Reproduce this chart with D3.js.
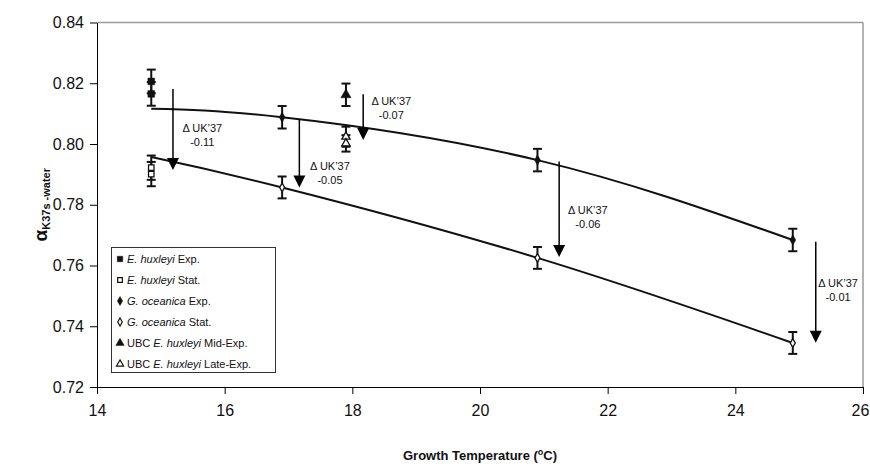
<!DOCTYPE html>
<html>
<head>
<meta charset="utf-8">
<script src="https://cdn.jsdelivr.net/npm/d3@7"></script>
<style>
  html, body { margin: 0; padding: 0; background: #fff; }
  svg { display: block; font-family: Arial, "Liberation Sans", sans-serif; }
</style>
</head>
<body>
<svg id="chart" width="870" height="464"></svg>
<script>
// ---- data ----
const xTicks = [14, 16, 18, 20, 22, 24, 26];
const yTicks = [0.72, 0.74, 0.76, 0.78, 0.80, 0.82, 0.84];

const ehuxExpT = [14.85, 14.85];
const ehuxExpV = [0.8206, 0.8165];
const ehuxExpE = [0.0039, 0.0039];

const ehuxStatT = [14.85, 14.85];
const ehuxStatV = [0.7922, 0.7901];
const ehuxStatE = [0.0040, 0.0040];

const goceExpT = [16.9, 20.9, 24.9];
const goceExpV = [0.8088, 0.7947, 0.7684];
const goceExpE = [0.0037, 0.0037, 0.0037];

const goceStatT = [16.9, 20.9, 24.9];
const goceStatV = [0.7857, 0.7625, 0.7345];
const goceStatE = [0.0036, 0.0036, 0.0036];

const ubcMidT = [17.9];
const ubcMidV = [0.8162];
const ubcMidE = [0.0037];

const ubcLateT = [17.9, 17.9];
const ubcLateV = [0.8024, 0.8002];
const ubcLateE = [0.0033, 0.0027];

// fitted trend lines
const fitExpT = [14.85, 16.9, 20.9, 24.9];
const fitExpV = [0.8116, 0.8088, 0.7947, 0.7684];
const fitStatT = [14.85, 16.9, 20.9, 24.9];
const fitStatV = [0.7957, 0.7857, 0.7625, 0.7345];

// arrows: x, top, tip, label centre x, label first baseline, label text
const arrowT = [15.19, 17.17, 18.17, 21.24, 25.26];
const arrowTop = [0.8181, 0.8082, 0.8164, 0.7942, 0.7678];
const arrowTip = [0.7914, 0.7857, 0.8013, 0.7628, 0.7346];
const labelT = [15.65, 17.65, 18.61, 21.69, 25.61];
const labelV = [0.8038, 0.7914, 0.8130, 0.7771, 0.7528];
const labelVal = ["-0.11", "-0.05", "-0.07", "-0.06", "-0.01"];

const legendLabels = [
  [{t: "E. huxleyi", i: true}, {t: " Exp.", i: false}],
  [{t: "E. huxleyi", i: true}, {t: " Stat.", i: false}],
  [{t: "G. oceanica", i: true}, {t: " Exp.", i: false}],
  [{t: "G. oceanica", i: true}, {t: " Stat.", i: false}],
  [{t: "UBC ", i: false}, {t: "E. huxleyi", i: true}, {t: " Mid-Exp.", i: false}],
  [{t: "UBC ", i: false}, {t: "E. huxleyi", i: true}, {t: " Late-Exp.", i: false}]
];

// ---- layout ----
const svg = d3.select("#chart");
const L = 97, R = 863, T = 22.5, B = 387;
const x = d3.scaleLinear().domain([14, 26]).range([L, R]);
const y = d3.scaleLinear().domain([0.72, 0.84]).range([B, T]);

// plot frame top/right (gray)
svg.append("line").attr("x1", L).attr("x2", R).attr("y1", T).attr("y2", T)
  .attr("stroke", "#9a9a9a").attr("stroke-width", 1.5);
svg.append("line").attr("x1", R).attr("x2", R).attr("y1", T).attr("y2", B)
  .attr("stroke", "#9a9a9a").attr("stroke-width", 1.5);

// axes
const xAxis = d3.axisBottom(x).tickValues(xTicks).tickFormat(d3.format("d"))
  .tickSizeInner(7).tickSizeOuter(0).tickPadding(7);
const gx = svg.append("g").attr("transform", `translate(0,${B})`).call(xAxis);
const yAxis = d3.axisLeft(y).tickValues(yTicks).tickFormat(d3.format(".2f"))
  .tickSizeInner(7).tickSizeOuter(0).tickPadding(6);
const gy = svg.append("g").attr("transform", `translate(${L},0)`).call(yAxis);
[gx, gy].forEach(g => {
  g.select(".domain").attr("stroke", "#000").attr("stroke-width", 1);
  g.selectAll(".tick line").attr("stroke", "#000");
  g.selectAll(".tick text").attr("fill", "#111").style("font-size", "16px")
    .style("font-family", "Arial, 'Liberation Sans', sans-serif");
});
gx.selectAll(".tick text").attr("dy", "0.95em")
  .attr("dx", d => d === 26 ? -3 : 0);

// axis titles
const xt = svg.append("text").attr("x", (L + R) / 2).attr("y", 460)
  .attr("text-anchor", "middle").style("font-weight", "bold").style("font-size", "13px")
  .attr("fill", "#111");
xt.append("tspan").text("Growth Temperature (");
xt.append("tspan").text("o").style("font-size", "9px").attr("dy", "-5");
xt.append("tspan").text("C)").attr("dy", "5");

const yt = svg.append("text")
  .attr("transform", `translate(47,${(T + B) / 2}) rotate(-90)`)
  .attr("text-anchor", "middle").style("font-weight", "bold").attr("fill", "#111");
yt.append("tspan").text("α").style("font-size", "19px");
yt.append("tspan").text("K37s -water").style("font-size", "11px").attr("dy", "3");

// trend lines
const line = d3.line().x(d => x(d[0])).y(d => y(d[1])).curve(d3.curveNatural);
svg.append("path").datum(fitExpT.map((t, i) => [t, fitExpV[i]]))
  .attr("d", line).attr("fill", "none").attr("stroke", "#111").attr("stroke-width", 2);
svg.append("path").datum(fitStatT.map((t, i) => [t, fitStatV[i]]))
  .attr("d", line).attr("fill", "none").attr("stroke", "#111").attr("stroke-width", 2);

// error bars + markers
function errorBars(ts, vs, es) {
  const g = svg.append("g").attr("stroke", "#111").attr("stroke-width", 2);
  ts.forEach((t, i) => {
    const cx = x(t), y1 = y(vs[i] + es[i]), y2 = y(vs[i] - es[i]);
    g.append("line").attr("x1", cx).attr("x2", cx).attr("y1", y1).attr("y2", y2);
    g.append("line").attr("x1", cx - 4.5).attr("x2", cx + 4.5).attr("y1", y1).attr("y2", y1);
    g.append("line").attr("x1", cx - 4.5).attr("x2", cx + 4.5).attr("y1", y2).attr("y2", y2);
  });
}
function markers(ts, vs, type, size, filled) {
  const sym = d3.symbol().type(type).size(size);
  svg.append("g").selectAll("path").data(ts.map((t, i) => [t, vs[i]])).join("path")
    .attr("d", sym)
    .attr("transform", d => `translate(${x(d[0])},${y(d[1])})`)
    .attr("fill", filled ? "#111" : "#fff")
    .attr("stroke", "#111").attr("stroke-width", filled ? 0.5 : 1.3);
}
errorBars(ehuxExpT, ehuxExpV, ehuxExpE);
errorBars(ehuxStatT, ehuxStatV, ehuxStatE);
errorBars(goceExpT, goceExpV, goceExpE);
errorBars(goceStatT, goceStatV, goceStatE);
errorBars(ubcMidT, ubcMidV, ubcMidE);
errorBars(ubcLateT, ubcLateV, ubcLateE);
markers(ehuxExpT, ehuxExpV, d3.symbolSquare, 45, true);
markers(ehuxStatT, ehuxStatV, d3.symbolSquare, 30, false);
markers(goceExpT, goceExpV, d3.symbolDiamond, 30, true);
markers(goceStatT, goceStatV, d3.symbolDiamond, 22, false);
markers(ubcMidT, ubcMidV, d3.symbolTriangle, 45, true);
markers(ubcLateT, ubcLateV, d3.symbolTriangle, 30, false);

// arrows with labels
const ag = svg.append("g");
arrowT.forEach((t, i) => {
  const ax = x(t), yTop = y(arrowTop[i]), yTip = y(arrowTip[i]);
  ag.append("line").attr("x1", ax).attr("x2", ax).attr("y1", yTop).attr("y2", yTip - 8)
    .attr("stroke", "#000").attr("stroke-width", 1.5);
  ag.append("path")
    .attr("d", `M${ax - 6},${yTip - 12}L${ax + 6},${yTip - 12}L${ax},${yTip}Z`)
    .attr("fill", "#000");
  const lx = x(labelT[i]), ly = y(labelV[i]);
  ag.append("text").attr("x", lx).attr("y", ly).attr("text-anchor", "middle")
    .style("font-size", "11px").attr("fill", "#111").text("Δ UK’37");
  ag.append("text").attr("x", lx).attr("y", ly + 14).attr("text-anchor", "middle")
    .style("font-size", "11px").attr("fill", "#111").text(labelVal[i]);
});

// legend
const lg = svg.append("g");
lg.append("rect").attr("x", 111.5).attr("y", 247.5).attr("width", 164).attr("height", 125)
  .attr("fill", "#fff").attr("stroke", "#333").attr("stroke-width", 1);
const legSyms = [
  [d3.symbolSquare, 30, true], [d3.symbolSquare, 22, false],
  [d3.symbolDiamond, 24, true], [d3.symbolDiamond, 18, false],
  [d3.symbolTriangle, 30, true], [d3.symbolTriangle, 22, false]
];
legendLabels.forEach((parts, i) => {
  const cy = 259 + i * 21;
  const s = legSyms[i];
  lg.append("path").attr("d", d3.symbol().type(s[0]).size(s[1]))
    .attr("transform", `translate(120,${cy})`)
    .attr("fill", s[2] ? "#111" : "#fff").attr("stroke", "#111").attr("stroke-width", s[2] ? 0.5 : 1.2);
  const tx = lg.append("text").attr("x", 127).attr("y", cy + 4)
    .style("font-size", "11px").attr("fill", "#111");
  parts.forEach(p => tx.append("tspan").text(p.t).style("font-style", p.i ? "italic" : "normal"));
});
</script>
</body>
</html>
